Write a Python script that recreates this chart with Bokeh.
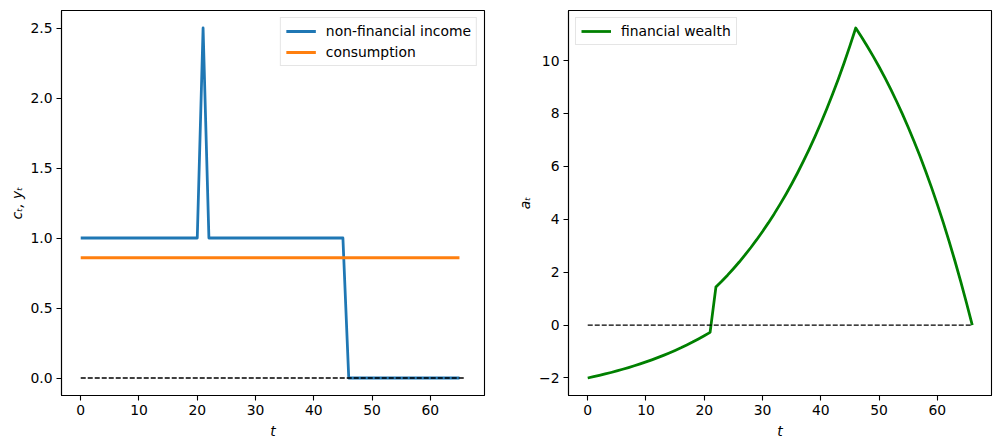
from bokeh.plotting import figure
from bokeh.layouts import row
from bokeh.models import FixedTicker, Legend, LegendItem, Range1d, PrintfTickFormatter
from bokeh.embed import file_html
from bokeh.resources import INLINE

# ---------------- data ----------------
t_income = list(range(66))
income = [1.0, 1.0, 1.0, 1.0, 1.0, 1.0, 1.0, 1.0, 1.0, 1.0,
          1.0, 1.0, 1.0, 1.0, 1.0, 1.0, 1.0, 1.0, 1.0, 1.0,
          1.0, 2.5, 1.0, 1.0, 1.0, 1.0, 1.0, 1.0, 1.0, 1.0,
          1.0, 1.0, 1.0, 1.0, 1.0, 1.0, 1.0, 1.0, 1.0, 1.0,
          1.0, 1.0, 1.0, 1.0, 1.0, 1.0, 0.0, 0.0, 0.0, 0.0,
          0.0, 0.0, 0.0, 0.0, 0.0, 0.0, 0.0, 0.0, 0.0, 0.0,
          0.0, 0.0, 0.0, 0.0, 0.0, 0.0]
consumption = [0.859] * 66

t_wealth = list(range(67))
wealth = [-2.000, -1.952, -1.901, -1.848, -1.792, -1.733, -1.671, -1.607, -1.539, -1.467,
          -1.392, -1.313, -1.231, -1.144, -1.053, -0.957, -0.857, -0.751, -0.641, -0.524,
          -0.402, -0.274, 1.436, 1.656, 1.887, 2.130, 2.384, 2.652, 2.933, 3.228,
          3.538, 3.863, 4.204, 4.563, 4.939, 5.334, 5.750, 6.185, 6.643, 7.123,
          7.628, 8.158, 8.714, 9.298, 9.911, 10.555, 11.231, 10.891, 10.534, 10.159,
          9.765, 9.352, 8.917, 8.462, 7.983, 7.480, 6.953, 6.399, 5.817, 5.206,
          4.565, 3.891, 3.184, 2.442, 1.662, 0.844, 0.000]

zero_x = [0, 66]
zero_y = [0, 0]

x_ticks = [0, 10, 20, 30, 40, 50, 60]
left_y_ticks = [0.0, 0.5, 1.0, 1.5, 2.0, 2.5]
right_y_ticks = [-2, 0, 2, 4, 6, 8, 10]
right_y_labels = {-2: "\u22122", 0: "0", 2: "2", 4: "4", 6: "6", 8: "8", 10: "10"}

FONT = "DejaVu Sans"
FS = "13.9px"
BLUE = "#1f77b4"
ORANGE = "#ff7f0e"
GREEN = "#008000"


def style(p, ylab_standoff):
    p.xgrid.visible = False
    p.ygrid.visible = False
    p.outline_line_color = "black"
    p.outline_line_width = 1.1
    p.outline_line_alpha = 1.0
    p.background_fill_color = "white"
    p.border_fill_color = "white"
    for ax in (p.xaxis[0], p.yaxis[0]):
        ax.axis_line_color = "black"
        ax.axis_line_width = 1.1
        ax.major_tick_line_color = "black"
        ax.major_tick_line_width = 1.1
        ax.major_tick_out = 5
        ax.major_tick_in = 0
        ax.minor_tick_line_color = None
        ax.major_label_text_font = FONT
        ax.major_label_text_font_size = FS
        ax.major_label_text_color = "black"
        ax.major_label_standoff = 4
        ax.axis_label_text_font = FONT
        ax.axis_label_text_font_size = FS
        ax.axis_label_text_font_style = "italic"
        ax.axis_label_text_color = "black"
    p.xaxis[0].axis_label_standoff = 5
    p.yaxis[0].axis_label_standoff = ylab_standoff
    p.xaxis[0].ticker = FixedTicker(ticks=x_ticks)


def make_legend(items, loc):
    lg = Legend(items=items, location=loc)
    lg.label_text_font = FONT
    lg.label_text_font_size = FS
    lg.label_text_color = "black"
    lg.glyph_width = 30
    lg.glyph_height = 16
    lg.label_height = 16
    lg.label_standoff = 10
    lg.padding = 5
    lg.spacing = 5
    lg.margin = 7
    lg.border_line_color = "#cccccc"
    lg.border_line_width = 1
    lg.background_fill_alpha = 0.8
    return lg


# ---------------- left panel ----------------
p1 = figure(width=504, height=445, output_backend="svg", toolbar_location=None,
            x_range=Range1d(-3.3, 69.3), y_range=Range1d(-0.125, 2.625),
            min_border_left=61, min_border_right=20, min_border_top=10, min_border_bottom=50)
style(p1, 2)
p1.yaxis[0].ticker = FixedTicker(ticks=left_y_ticks)
p1.yaxis[0].formatter = PrintfTickFormatter(format="%.1f")
p1.xaxis[0].axis_label = "t"
p1.yaxis[0].axis_label = "c\u209c, y\u209c"

r_inc = p1.line(t_income, income, line_color=BLUE, line_width=2.78, line_join="round")
r_con = p1.line(t_income, consumption, line_color=ORANGE, line_width=2.78, line_join="round")
p1.line(zero_x, zero_y, line_color="black", line_width=1.4, line_dash="5 2")
p1.add_layout(make_legend([LegendItem(label="non-financial income", renderers=[r_inc]),
                           LegendItem(label="consumption", renderers=[r_con])], "top_right"))

# ---------------- right panel ----------------
p2 = figure(width=489, height=445, output_backend="svg", toolbar_location=None,
            x_range=Range1d(-3.3, 69.3), y_range=Range1d(-2.662, 11.893),
            min_border_left=64, min_border_right=2, min_border_top=10, min_border_bottom=50)
style(p2, 3)
p2.yaxis[0].ticker = FixedTicker(ticks=right_y_ticks)
p2.yaxis[0].major_label_overrides = right_y_labels
p2.xaxis[0].axis_label = "t"
p2.yaxis[0].axis_label = "a\u209c"

r_w = p2.line(t_wealth, wealth, line_color=GREEN, line_width=2.78, line_join="round")
p2.line(zero_x, zero_y, line_color="black", line_width=1.4, line_dash="5 2")
p2.add_layout(make_legend([LegendItem(label="financial wealth", renderers=[r_w])], "top_left"))

layout = row(p1, p2)
open("out.html", "w").write(file_html(layout, INLINE))
